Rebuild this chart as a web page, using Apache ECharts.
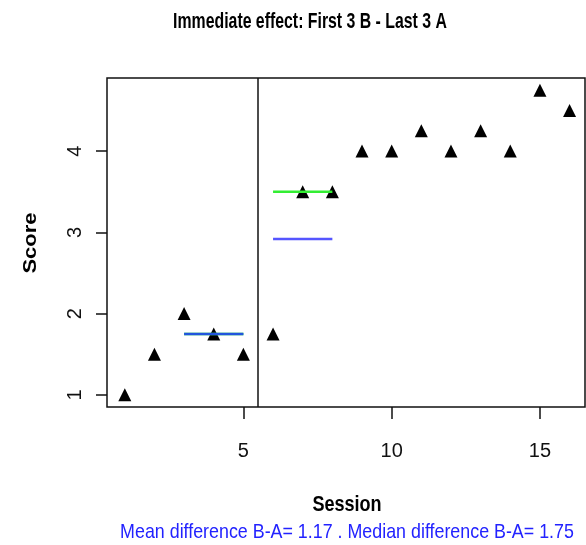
<!DOCTYPE html>
<html>
<head>
<meta charset="utf-8">
<script src="https://cdn.jsdelivr.net/npm/echarts@6/dist/echarts.min.js"></script>
<style>
  html, body { margin: 0; padding: 0; background: #fff; }
  #chart { width: 586px; height: 545px; }
</style>
</head>
<body>
<div id="chart"></div>
<script>
// 数据
const sessions = [1, 2, 3, 4, 5, 6, 7, 8, 9, 10, 11, 12, 13, 14, 15, 16];
const scores = [1, 1.5, 2, 1.75, 1.5, 1.75, 3.5, 3.5, 4, 4, 4.25, 4, 4.25, 4, 4.75, 4.5];
const phaseA = [1, 2, 3, 4, 5];          // A 阶段的 session
const xTicks = [5, 10, 15];
const yTicks = [1, 2, 3, 4];

const FONT = "'Liberation Sans', Arial, sans-serif";

// 最后 3 个 A, 最前 3 个 B
const lastA = phaseA.slice(-3);
const firstB = sessions.filter(s => phaseA.indexOf(s) < 0).slice(0, 3);
const valOf = s => scores[sessions.indexOf(s)];
const mean = arr => arr.reduce((a, b) => a + b, 0) / arr.length;
const median = arr => {
  const s = arr.slice().sort((a, b) => a - b);
  const m = Math.floor(s.length / 2);
  return s.length % 2 ? s[m] : (s[m - 1] + s[m]) / 2;
};
const aVals = lastA.map(valOf), bVals = firstB.map(valOf);
const meanA = mean(aVals), meanB = mean(bVals);
const medA = median(aVals), medB = median(bVals);
const phaseChange = phaseA[phaseA.length - 1] + 0.5;

const seg = (xs, y) => [[xs[0], y], [xs[xs.length - 1], y]];

// 文字（原图横向压缩，用 scaleX 模拟窄字体）
const txt = (text, x, y, size, weight, color, opts) => Object.assign({
  type: 'text', x: x, y: y, silent: true,
  style: {
    text: text, fill: color, align: 'center', verticalAlign: 'middle',
    font: weight + ' ' + size + 'px ' + FONT
  }
}, opts || {});

const subtitle = 'Mean difference B-A= ' + (meanB - meanA).toFixed(2) +
  ' . Median difference B-A= ' + (medB - medA).toFixed(2);

const chart = echarts.init(document.getElementById('chart'));
chart.setOption({
  animation: false,
  graphic: [
    txt('Immediate effect: First 3 B - Last 3 A', 310, 22, 22, 'bold', '#000', { scaleX: 0.72 }),
    txt('Session', 347, 505, 22, 'bold', '#000', { scaleX: 0.82 }),
    txt('Score', 31, 243, 22, 'bold', '#000', { rotation: Math.PI / 2, scaleY: 0.85 }),
    txt(subtitle, 347, 532, 21, 'normal', '#2222ff', { scaleX: 0.85 })
  ],
  grid: {
    left: 107, top: 78, right: 1, bottom: 138,
    show: true, borderColor: '#111', borderWidth: 1.5, backgroundColor: '#fff'
  },
  xAxis: {
    type: 'value', min: 0.4, max: 16.52,
    axisLine: { show: false },
    splitLine: { show: false },
    axisTick: { show: true, length: 12, customValues: xTicks, lineStyle: { color: '#111', width: 1.5 } },
    axisLabel: { customValues: xTicks, margin: 34, fontFamily: FONT, fontSize: 20, color: '#111' }
  },
  yAxis: {
    type: 'value', min: 0.85, max: 4.9,
    axisLine: { show: false },
    splitLine: { show: false },
    axisTick: { show: true, length: 11, customValues: yTicks, lineStyle: { color: '#111', width: 1.5 } },
    axisLabel: { customValues: yTicks, rotate: 90, margin: 22, fontFamily: FONT, fontSize: 20, color: '#111' }
  },
  series: [
    {
      name: 'score', type: 'scatter', symbol: 'triangle', symbolSize: 13,
      itemStyle: { color: '#000', opacity: 1 },
      data: sessions.map((s, i) => [s, scores[i]]),
      markLine: {
        silent: true, symbol: 'none', label: { show: false },
        lineStyle: { color: '#111', width: 1.5, type: 'solid' },
        data: [{ xAxis: phaseChange }]
      },
      z: 2
    },
    {
      name: 'medianA', type: 'line', symbol: 'none', z: 3,
      lineStyle: { color: '#33ee33', width: 2.5 }, data: seg(lastA, medA)
    },
    {
      name: 'meanA', type: 'line', symbol: 'none', z: 4,
      lineStyle: { color: '#2255dd', width: 2.5 }, data: seg(lastA, meanA)
    },
    {
      name: 'medianB', type: 'line', symbol: 'none', z: 3,
      lineStyle: { color: '#33ee33', width: 2.5 }, data: seg(firstB, medB)
    },
    {
      name: 'meanB', type: 'line', symbol: 'none', z: 4,
      lineStyle: { color: '#5555ff', width: 2.5 }, data: seg(firstB, meanB)
    }
  ]
});
</script>
</body>
</html>
